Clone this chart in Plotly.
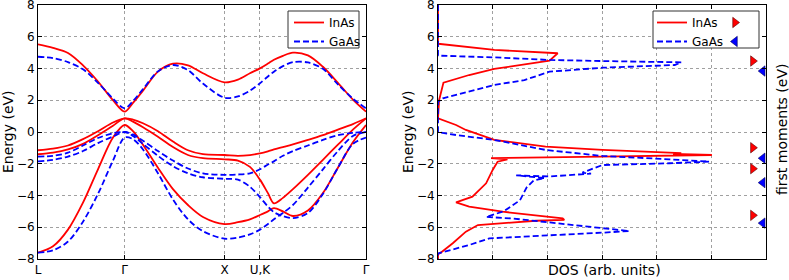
import plotly.graph_objects as go

# ---------------- data ----------------
K_TICKS = [0.0, 0.866, 1.866, 2.220, 3.281]
K_LABELS = ["L", "Γ", "X", "U,K", "Γ"]

K = [0, 0.15, 0.3, 0.45, 0.6, 0.75, 0.866, 0.95, 1.05, 1.2, 1.35, 1.5, 1.65, 1.866,
     2.0, 2.12, 2.22, 2.3, 2.36, 2.45, 2.55, 2.7, 2.85, 3.0, 3.15, 3.281]

inas_cb = [5.52, 5.3, 4.98, 4.2, 3.18, 2.0, 1.28, 1.83, 2.6, 3.8, 4.3, 4.2, 3.7, 3.13,
           3.3, 3.7, 4.01, 4.31, 4.55, 4.8, 5.0, 4.83, 4.11, 3.1, 2.04, 1.28]
inas_vb1 = [-1.15, -1.05, -0.85, -0.45, 0.05, 0.6, 0.86, 0.78, 0.55, 0.05, -0.6, -1.15, -1.4, -1.45,
            -1.5, -1.45, -1.35, -1.22, -1.1, -0.95, -0.78, -0.5, -0.2, 0.15, 0.5, 0.86]
inas_vb2 = [-1.4, -1.3, -1.1, -0.75, -0.2, 0.4, 0.86, 0.65, 0.3, -0.3, -0.95, -1.45, -1.65, -1.72,
            -1.8, -2.2, -3.0, -3.85, -4.49, -4.15, -3.6, -2.7, -1.75, -0.8, 0.15, 0.86]
inas_vb3 = [-7.6, -7.2, -6.15, -4.45, -2.35, -0.35, 0.44, 0.05, -0.8, -2.25, -3.6, -4.6, -5.35, -5.8,
            -5.68, -5.5, -5.23, -5.0, -4.8, -5.0, -5.29, -4.95, -3.85, -2.25, -0.65, 0.44]

gaas_cb = [4.74, 4.66, 4.4, 3.95, 3.1, 2.1, 1.49, 1.95, 2.7, 3.82, 4.22, 3.9, 3.05, 2.16,
           2.24, 2.6, 3.07, 3.5, 3.8, 4.15, 4.4, 4.38, 3.98, 3.0, 2.1, 1.49]
gaas_vb1 = [-1.55, -1.5, -1.3, -0.85, -0.38, -0.08, 0.0, -0.15, -0.55, -1.2, -1.8, -2.3, -2.6, -2.7,
            -2.68, -2.6, -2.35, -2.05, -1.85, -1.5, -1.2, -0.85, -0.5, -0.2, -0.05, 0.0]
gaas_vb2 = [-1.85, -1.75, -1.55, -1.2, -0.7, -0.28, 0.0, -0.25, -0.75, -1.5, -2.15, -2.6, -2.85, -2.95,
            -3.0, -3.45, -4.1, -4.7, -5.05, -5.3, -5.42, -5.1, -3.9, -2.25, -0.75, -0.35]
gaas_vb3 = [-7.6, -7.45, -6.9, -5.65, -3.9, -1.8, -0.35, -0.45, -1.1, -2.6, -4.25, -5.5, -6.25, -6.72,
            -6.65, -6.45, -6.15, -5.8, -5.5, -5.1, -4.6, -3.5, -2.35, -1.2, -0.25, 0.0]

inas_bands = [inas_cb, inas_vb1, inas_vb2, inas_vb3]
gaas_bands = [gaas_cb, gaas_vb1, gaas_vb2, gaas_vb3]

inas_dos = [0, 0, 1.03, 2.19, 2.04, 1.03, 0.57, 0.1, 0.02, 0, 0.33, 0.51, 1.03, 1.97, 3.01, 4.23,
            4.45, 4.3, 5.01, 3.0, 0.97, 1.27, 1.09, 1.0, 0.88, 0.63, 0.33, 0.57, 1.18, 2.28, 2.31,
            1.79, 0.73, 0.51, 0.27, 0.05, 0, 0]
inas_dos_e = [8, 5.56, 5.17, 4.96, 4.49, 3.97, 3.59, 3.11, 2.0, 0.86, 0.44, 0.13, -0.5, -0.92, -1.13,
              -1.28, -1.33, -1.38, -1.45, -1.55, -1.64, -1.72, -1.87, -2.39, -3.23, -4.07, -4.43,
              -4.7, -5.02, -5.44, -5.54, -5.59, -5.86, -6.28, -7.01, -7.6, -7.7, -8]

gaas_dos = [0, 0, 1.03, 2.04, 3.01, 4.23, 4.45, 4.33, 3.01, 2.04, 1.58, 1.03, 0.09, 0, 0, 0.33, 1.03,
            1.97, 3.01, 4.23, 4.96, 4.23, 3.01, 2.64, 2.8, 2.05, 1.43, 1.95, 1.75, 1.62, 1.5, 1.2,
            0.88, 1.37, 2.52, 3.5, 3.01, 0.94, 0.57, 0.02, 0, 0]
gaas_dos_e = [8, 4.81, 4.7, 4.54, 4.47, 4.37, 4.39, 4.22, 4.05, 3.8, 3.27, 2.96, 2.12, 1.9, 0.0, -0.19,
              -0.5, -1.13, -1.51, -1.72, -1.87, -1.97, -2.08, -2.56, -2.62, -2.8, -2.73, -2.9, -3.05,
              -3.5, -4.3, -5.0, -5.35, -5.45, -5.86, -6.24, -6.34, -6.7, -7.12, -7.6, -7.65, -8]

inas_moments = [4.47, -0.99, -2.31, -5.25]
gaas_moments = [3.84, -1.65, -3.19, -5.74]
INAS_MOM_X = 5.76
GAAS_MOM_X = 5.94

# ---------------- figure ----------------
W, H = 789, 280
ML, MR, MT, MB = 0, 0, 5, 21
PH = H - MT - MB

def px(x):
    return x / W

def py(y):
    return (H - MB - y) / PH

RED = "#ff0000"
BLUE = "#0000ff"
DASH = "6px,3px"

fig = go.Figure()

for i, b in enumerate(inas_bands):
    fig.add_trace(go.Scatter(x=K, y=b, mode="lines", name="InAs",
                             showlegend=(i == 0), legend="legend",
                             line=dict(color=RED, width=1.8, shape="spline", smoothing=0.9),
                             xaxis="x", yaxis="y"))
for i, b in enumerate(gaas_bands):
    fig.add_trace(go.Scatter(x=K, y=b, mode="lines", name="GaAs",
                             showlegend=(i == 0), legend="legend",
                             line=dict(color=BLUE, width=1.8, dash=DASH, shape="spline", smoothing=0.9),
                             xaxis="x", yaxis="y"))

fig.add_trace(go.Scatter(x=inas_dos, y=inas_dos_e, mode="lines", name="InAs", legend="legend2",
                         line=dict(color=RED, width=1.8), xaxis="x2", yaxis="y2"))
fig.add_trace(go.Scatter(x=gaas_dos, y=gaas_dos_e, mode="lines", name="GaAs", legend="legend2",
                         line=dict(color=BLUE, width=1.8, dash=DASH), xaxis="x2", yaxis="y2"))
fig.add_trace(go.Scatter(x=[INAS_MOM_X] * len(inas_moments), y=inas_moments, mode="markers",
                         name=" ", legend="legend3", cliponaxis=False,
                         marker=dict(symbol="triangle-right", size=9, color=RED,
                                     line=dict(color="#550000", width=0.6)),
                         xaxis="x2", yaxis="y2"))
fig.add_trace(go.Scatter(x=[GAAS_MOM_X] * len(gaas_moments), y=gaas_moments, mode="markers",
                         name=" ", legend="legend3", cliponaxis=False,
                         marker=dict(symbol="triangle-left", size=9, color=BLUE,
                                     line=dict(color="#000055", width=0.6)),
                         xaxis="x2", yaxis="y2"))

FONT = "DejaVu Sans"
axis_common = dict(showline=True, linecolor="black", linewidth=1, mirror="ticks",
                   ticks="inside", ticklen=4, tickcolor="black", ticklabeloverflow="allow",
                   showgrid=True, gridcolor="#a0a0a0", griddash="dot", gridwidth=1,
                   zeroline=False, tickfont=dict(family=FONT, size=12, color="black"))

LEG_FONT = dict(family=FONT, size=12)
NOBOX = dict(bgcolor="rgba(0,0,0,0)", borderwidth=0, font=LEG_FONT,
             xanchor="left", yanchor="top", tracegroupgap=0)

def legend_box(x0, x1):
    return dict(type="rect", xref="paper", yref="paper", x0=px(x0), x1=px(x1),
                y0=py(48), y1=py(11), line=dict(color="#333333", width=1),
                fillcolor="white", layer="above")

fig.update_layout(
    width=W, height=H,
    margin=dict(l=ML, r=MR, t=MT, b=MB, autoexpand=False),
    paper_bgcolor="white", plot_bgcolor="white",
    font=dict(family=FONT, color="black"),
    xaxis=dict(domain=[px(38), px(366)], range=[0, 3.281], tickvals=K_TICKS, ticktext=K_LABELS,
               anchor="y", **axis_common),
    yaxis=dict(domain=[0, 1], range=[-8, 8], dtick=2, anchor="x", **axis_common),
    xaxis2=dict(domain=[px(438), px(766)], range=[0, 6], dtick=1, showticklabels=False,
                anchor="y2", **axis_common),
    yaxis2=dict(domain=[0, 1], range=[-8, 8], dtick=2, anchor="x2", **axis_common),
    legend=dict(x=px(289), y=py(8), **NOBOX),
    legend2=dict(x=px(652), y=py(8), **NOBOX),
    legend3=dict(x=px(715), y=py(8), **NOBOX),
    shapes=[legend_box(288, 359), legend_box(653, 759)],
    annotations=[
        dict(text="Energy (eV)", xref="paper", yref="paper", x=px(8), y=0.5, showarrow=False,
             xanchor="center", yanchor="middle", textangle=-90, font=dict(family=FONT, size=14)),
        dict(text="Energy (eV)", xref="paper", yref="paper", x=px(408), y=0.5, showarrow=False,
             xanchor="center", yanchor="middle", textangle=-90, font=dict(family=FONT, size=14)),
        dict(text="first moments (eV)", xref="paper", yref="paper", x=px(782), y=py(130),
             xanchor="center", yanchor="middle", showarrow=False, textangle=-90,
             font=dict(family=FONT, size=14)),
        dict(text="DOS (arb. units)", xref="paper", yref="paper", x=px(604), y=py(270),
             xanchor="center", yanchor="middle", showarrow=False, font=dict(family=FONT, size=14)),
    ],
)

fig.write_html("out.html", config={"displayModeBar": False},
               post_script="document.body.style.margin='0px';document.body.style.overflow='hidden';")
